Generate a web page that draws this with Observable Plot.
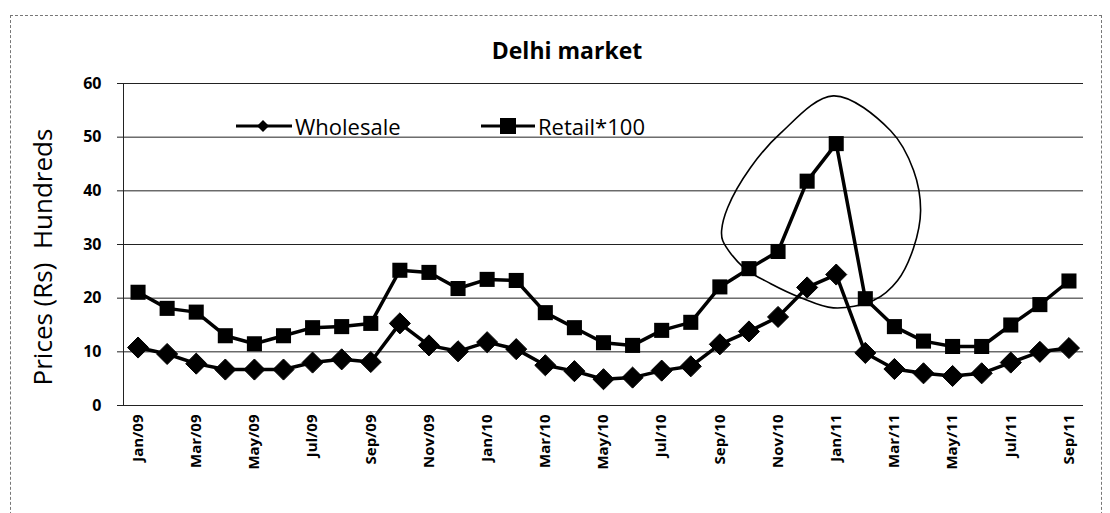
<!DOCTYPE html>
<html>
<head>
<meta charset="utf-8">
<script src="https://cdn.jsdelivr.net/npm/d3@7"></script>
<script src="https://cdn.jsdelivr.net/npm/@observablehq/plot@0.6"></script>
<style>
  html, body { margin: 0; padding: 0; background: #fff; }
  #wrap { position: relative; width: 1110px; height: 513px; overflow: hidden; font-family: "Open Sans", "Liberation Sans", sans-serif; }
  #frame { position: absolute; left: 10px; top: 15px; width: 1092px; height: 520px; border: 1px dashed #777; box-sizing: border-box; }
  #title { position: absolute; left: 0; width: 1110px; top: 34px; text-align: center; font-weight: bold; font-size: 23px; color: #000; padding-left: 24px; box-sizing: border-box; }
  #ylab { position: absolute; left: 42px; top: 257px; transform: translate(-50%, -50%) rotate(-90deg); white-space: pre; font-size: 26px; color: #000; }
  #chart { position: absolute; left: 0; top: 0; }
  .leg { position: absolute; top: 111px; font-size: 22px; color: #000; display: flex; align-items: center; }
  .leg svg { margin-right: 3px; }
</style>
</head>
<body>
<div id="wrap">
  <div id="frame"></div>
  <div id="chart"></div>
  <div id="title">Delhi market</div>
  <div id="ylab">Prices (Rs)  Hundreds</div>
  <div class="leg" style="left:236px;">
    <svg width="56" height="16"><line x1="0" y1="8" x2="56" y2="8" stroke="#000" stroke-width="3"/><path d="M27,2 L33,8 L27,14 L21,8 Z" fill="#000"/></svg>Wholesale
  </div>
  <div class="leg" style="left:481px;">
    <svg width="54" height="18"><line x1="0" y1="9" x2="54" y2="9" stroke="#000" stroke-width="3"/><rect x="19" y="1" width="16" height="16" fill="#000"/></svg>Retail*100
  </div>
</div>
<script>
const months = ["Jan/09","Feb/09","Mar/09","Apr/09","May/09","Jun/09","Jul/09","Aug/09","Sep/09","Oct/09","Nov/09","Dec/09",
                "Jan/10","Feb/10","Mar/10","Apr/10","May/10","Jun/10","Jul/10","Aug/10","Sep/10","Oct/10","Nov/10","Dec/10",
                "Jan/11","Feb/11","Mar/11","Apr/11","May/11","Jun/11","Jul/11","Aug/11","Sep/11"];
const wholesale = [10.8, 9.6, 7.8, 6.7, 6.7, 6.7, 8.0, 8.6, 8.1, 15.3, 11.2, 10.1,
                   11.8, 10.5, 7.5, 6.4, 4.9, 5.2, 6.5, 7.3, 11.4, 13.8, 16.5, 22.0,
                   24.4, 9.8, 6.8, 6.0, 5.5, 6.0, 8.0, 10.0, 10.7];
const retail = [21.1, 18.1, 17.4, 13.0, 11.5, 13.0, 14.5, 14.7, 15.3, 25.2, 24.8, 21.8,
                23.5, 23.3, 17.3, 14.5, 11.7, 11.2, 14.0, 15.5, 22.1, 25.5, 28.7, 41.8,
                48.8, 19.9, 14.7, 12.0, 11.0, 11.0, 15.0, 18.8, 23.2];
const yTicks = [0, 10, 20, 30, 40, 50, 60];
// hand-drawn annotation loop around the peak (month index, value)
const loopMonth = [20.06, 20.27, 21.05, 22.08, 23.9, 25.87, 26.66, 26.9, 26.66, 26.11, 25.29, 23.9, 22.78, 21.75, 20.82, 20.1];
const loopValue = [32.6, 36.9, 44.3, 50.7, 57.7, 51.2, 43.8, 36.3, 29.4, 23.3, 19.6, 18.2, 20.1, 22.7, 25.7, 30.7];

const wData = months.map((m, i) => ({i, v: wholesale[i]}));
const rData = months.map((m, i) => ({i, v: retail[i]}));
const loop = loopMonth.map((m, k) => ({i: m, v: loopValue[k]}));
const evenIdx = months.map((m, i) => i).filter(i => i % 2 === 0);

const chart = Plot.plot({
  width: 1110,
  height: 513,
  marginTop: 83,
  marginBottom: 108,
  marginLeft: 123,
  marginRight: 27,
  style: {fontFamily: "'Open Sans', sans-serif", background: "transparent", overflow: "visible"},
  x: {type: "linear", domain: [-0.5, months.length - 0.5]},
  y: {domain: [0, 60]},
  marks: [
    Plot.ruleY(yTicks, {stroke: "#222", strokeWidth: 1}),
    Plot.frame({anchor: "left", stroke: "#222"}),
    Plot.axisY(yTicks, {tickSize: 6, tickPadding: 16, fontSize: 16, fontWeight: "bold", label: null, stroke: "#222"}),
    Plot.axisX(evenIdx, {tickSize: 0, tickPadding: 9, tickRotate: -90, fontSize: 15, fontWeight: "bold", label: null, tickFormat: i => months[i]}),
    Plot.line(rData, {x: "i", y: "v", stroke: "#000", strokeWidth: 3.5}),
    Plot.dot(rData, {x: "i", y: "v", symbol: "square", r: 8.5, fill: "#000"}),
    Plot.line(wData, {x: "i", y: "v", stroke: "#000", strokeWidth: 3.5}),
    Plot.dot(wData, {x: "i", y: "v", symbol: "diamond2", r: 9.5, fill: "#000", stroke: "#000", strokeWidth: 1}),
    Plot.line(loop, {x: "i", y: "v", curve: "catmull-rom-closed", stroke: "#000", strokeWidth: 1.6})
  ]
});
document.getElementById("chart").appendChild(chart);
</script>
</body>
</html>
